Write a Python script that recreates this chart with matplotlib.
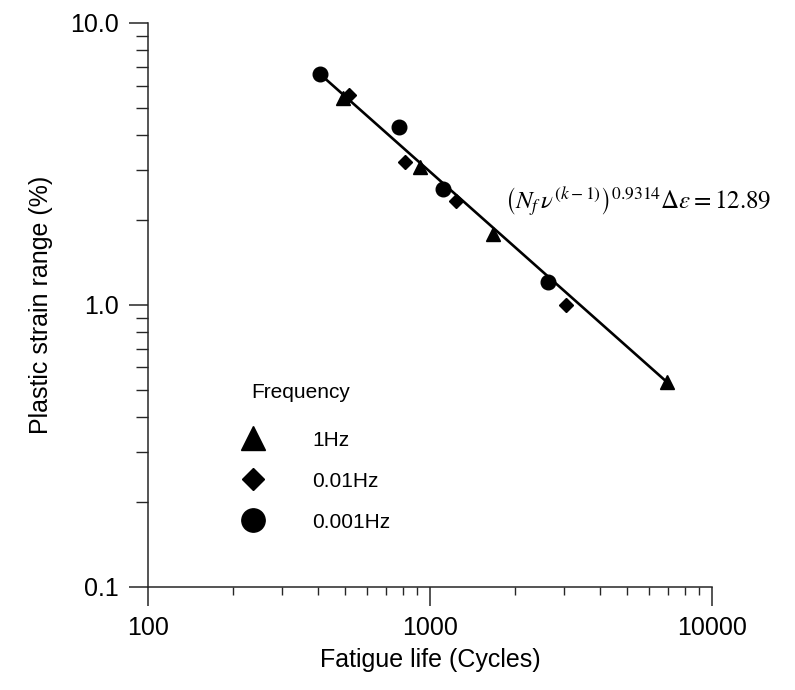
import matplotlib
matplotlib.use("Agg")
import matplotlib.pyplot as plt
from matplotlib.ticker import LogLocator, NullFormatter, FixedLocator, FixedFormatter

plt.rcParams['font.family'] = ['Liberation Sans', 'DejaVu Sans']
plt.rcParams['mathtext.fontset'] = 'stix'

# Fatigue life (cycles) and plastic strain range (%) for each test frequency
life_1hz = [493, 924, 1677, 6940]
strain_1hz = [5.42, 3.08, 1.79, 0.531]

life_0p01hz = [515, 817, 1235, 3040]
strain_0p01hz = [5.55, 3.21, 2.33, 0.996]

life_0p001hz = [408, 778, 1114, 2627]
strain_0p001hz = [6.59, 4.27, 2.57, 1.21]

# Fitted frequency-modified Coffin-Manson line
fit_life = [408, 6940]
fit_strain = [6.59, 0.531]

x_ticks = [100, 1000, 10000]
x_tick_labels = ["100", "1000", "10000"]
y_ticks = [0.1, 1.0, 10.0]
y_tick_labels = ["0.1", "1.0", "10.0"]

fig = plt.figure(figsize=(7.95, 6.9), dpi=100)
ax = fig.add_axes([147.7 / 795, 1 - 586.7 / 690, (712 - 147.7) / 795, (586.7 - 23) / 690])

ax.plot(fit_life, fit_strain, color='black', lw=1.9, zorder=2)
ax.plot(life_1hz, strain_1hz, linestyle='none', marker='^', ms=10.5,
        color='black', label='1Hz', zorder=3)
ax.plot(life_0p01hz, strain_0p01hz, linestyle='none', marker='D', ms=7,
        color='black', label='0.01Hz', zorder=3)
ax.plot(life_0p001hz, strain_0p001hz, linestyle='none', marker='o', ms=10.5,
        color='black', label='0.001Hz', zorder=3)

ax.set_xscale('log')
ax.set_yscale('log')
ax.set_xlim(100, 10000)
ax.set_ylim(0.1, 10.0)

ax.xaxis.set_major_locator(FixedLocator(x_ticks))
ax.xaxis.set_major_formatter(FixedFormatter(x_tick_labels))
ax.yaxis.set_major_locator(FixedLocator(y_ticks))
ax.yaxis.set_major_formatter(FixedFormatter(y_tick_labels))
ax.xaxis.set_minor_locator(LogLocator(base=10, subs=range(2, 10)))
ax.yaxis.set_minor_locator(LogLocator(base=10, subs=range(2, 10)))
ax.xaxis.set_minor_formatter(NullFormatter())
ax.yaxis.set_minor_formatter(NullFormatter())

for side in ('top', 'right'):
    ax.spines[side].set_visible(False)
for side in ('left', 'bottom'):
    ax.spines[side].set_linewidth(1.1)
    ax.spines[side].set_color('#262626')

ax.tick_params(which='major', direction='out', length=13.5, width=1.1,
               color='#262626', labelsize=18, pad=7.5)
ax.tick_params(axis='x', which='minor', direction='out', length=6, width=1.0,
               color='#262626')
ax.tick_params(axis='y', which='minor', direction='out', length=8.5, width=1.0,
               color='#262626')

ax.set_xlabel('Fatigue life (Cycles)', fontsize=18, labelpad=6)
ax.set_ylabel('Plastic strain range (%)', fontsize=18, labelpad=12)

fig.text(505 / 795, 1 - 202 / 690,
         r'$\left(N_f\,\nu^{(k-1)}\right)^{0.9314}\Delta\varepsilon = 12.89$',
         fontsize=18, ha='left', va='center')

# Legend: heading drawn as its own text, entries via the axes legend
fig.text(301 / 795, 1 - 392 / 690, 'Frequency', fontsize=15,
         ha='center', va='center')
leg = ax.legend(loc='upper left', frameon=False,
                bbox_to_anchor=(213 / 795, 1 - 412 / 690),
                bbox_transform=fig.transFigure,
                fontsize=15, markerscale=1.6,
                handlelength=2.0, handletextpad=1.85, labelspacing=1.05,
                borderpad=0.4)

fig.savefig('out.png', dpi=100)
